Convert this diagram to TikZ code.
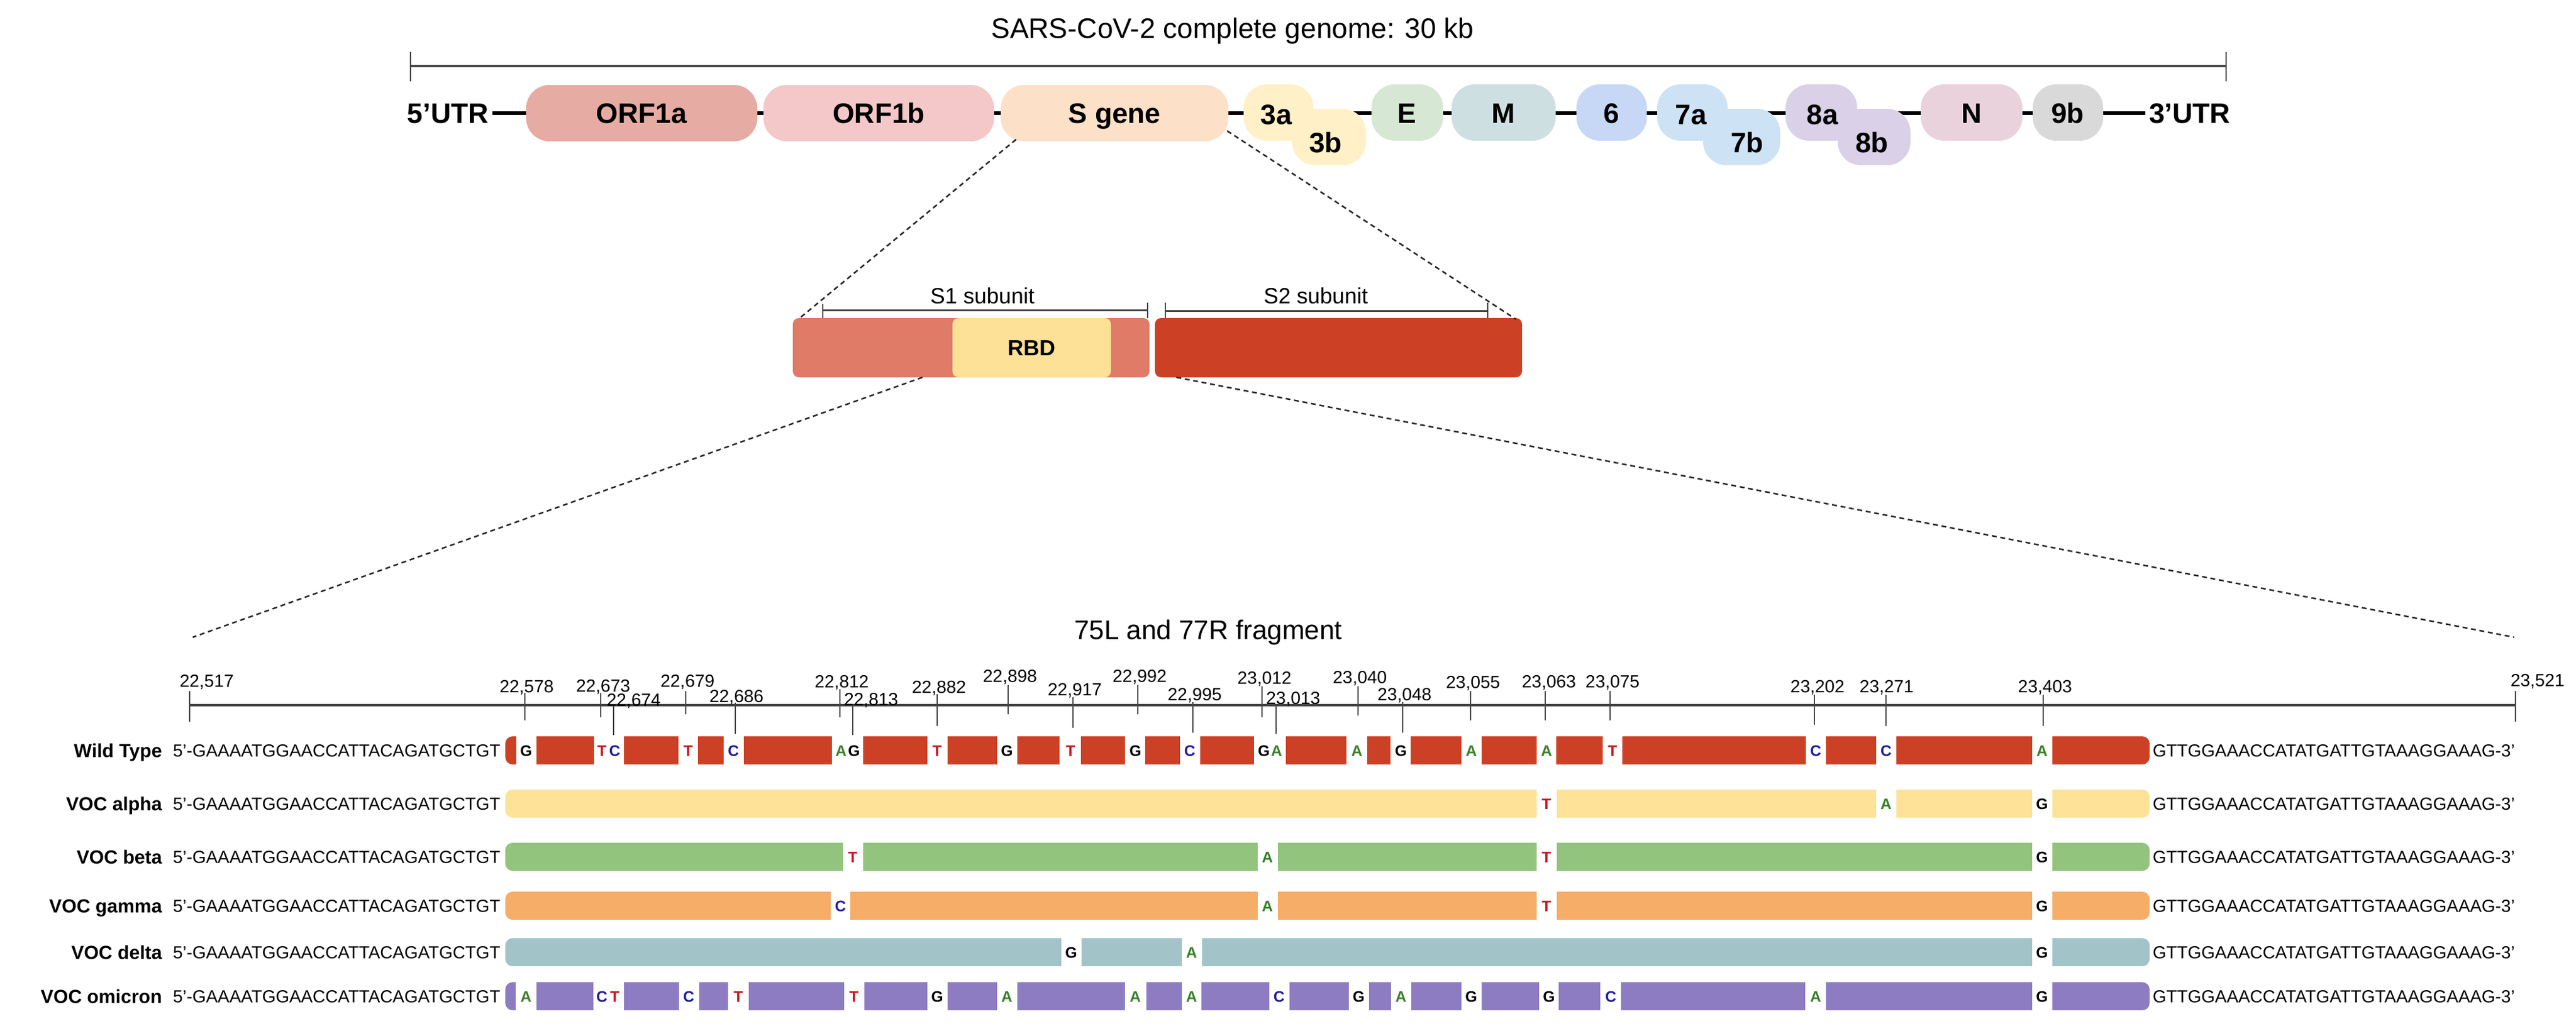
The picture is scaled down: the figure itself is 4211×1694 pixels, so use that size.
\documentclass[tikz,border=0pt]{standalone}
\usepackage{fontspec}
\setmainfont{Liberation Sans}
\usetikzlibrary{calc}
\definecolor{wtred}{RGB}{204,65,37}
\definecolor{alphay}{RGB}{253,226,151}
\definecolor{betag}{RGB}{147,196,125}
\definecolor{gammao}{RGB}{246,173,104}
\definecolor{deltat}{RGB}{162,196,201}
\definecolor{omip}{RGB}{142,124,195}
\definecolor{s1col}{RGB}{223,123,103}
\definecolor{rbdcol}{RGB}{253,225,150}
\definecolor{s2col}{RGB}{204,65,37}
\definecolor{ntA}{RGB}{56,128,40}
\definecolor{ntT}{RGB}{204,20,30}
\definecolor{ntC}{RGB}{30,30,160}
\definecolor{ntG}{RGB}{0,0,0}
\definecolor{orf1acol}{RGB}{230,172,164}
\definecolor{orf1bcol}{RGB}{244,199,200}
\definecolor{sgenecol}{RGB}{252,224,200}
\definecolor{g3col}{RGB}{255,240,200}
\definecolor{gEcol}{RGB}{214,232,212}
\definecolor{gMcol}{RGB}{206,223,226}
\definecolor{g6col}{RGB}{198,216,246}
\definecolor{g7col}{RGB}{205,226,244}
\definecolor{g8col}{RGB}{218,208,232}
\definecolor{gNcol}{RGB}{234,210,221}
\definecolor{g9col}{RGB}{217,217,217}
\definecolor{linegray}{RGB}{70,70,70}
\tikzset{
  gene/.style={rounded corners=38pt, inner sep=0pt, minimum height=92pt, draw=none},
  genetxt/.style={font=\fontsize{46}{50}\selectfont\bfseries, inner sep=0pt, text height=33pt, text depth=0pt},
  titletxt/.style={font=\fontsize{46}{50}\selectfont, inner sep=0pt, text height=33pt, text depth=0pt},
  fragtxt/.style={font=\fontsize{44}{48}\selectfont, inner sep=0pt, text height=31.5pt, text depth=0pt},
  subtxt/.style={font=\fontsize{36}{40}\selectfont, inner sep=0pt, text height=25.8pt, text depth=0pt},
  numtxt/.style={font=\fontsize{28.8}{32}\selectfont, inner sep=0pt, text height=20.6pt, text depth=0pt},
  seqtxt/.style={font=\fontsize{28.6}{32}\selectfont, inner sep=0pt, text height=20.5pt, text depth=0pt},
  rowlbl/.style={font=\fontsize{31}{34}\selectfont\bfseries, inner sep=0pt, text height=22.2pt, text depth=0pt, anchor=east},
  nttxt/.style={font=\fontsize{25}{28}\selectfont\bfseries, inner sep=0pt, text height=18pt, text depth=0pt},
  sbox/.style={rounded corners=10pt, inner sep=0pt, minimum height=97pt, draw=none},
  zoomline/.style={line width=2.5pt, dash pattern=on 8pt off 6pt, black!85},
  tickln/.style={line width=2pt, linegray},
}
\newcommand\varrow[5]{%
  \begin{scope}
    \clip[rounded corners=12pt] (826,#2-23) rectangle (3514,#2+23);
    \foreach \a/\b in {#4} {\fill[#3] (\a,#2-23) rectangle (\b,#2+23);}
  \end{scope}
  \foreach \x/\n in {#5} {\node[nttxt, text=nt\n] (#1-\x) at (\x,#2) {\n};}
}
\begin{document}
\begin{tikzpicture}[x=1pt,y=-1pt]
\useasboundingbox (0,0) rectangle (4211,1694);
\fill[white] (0,0) rectangle (4211,1694);

% ---------- genome ----------
\node[titletxt] (title) at (2015,46) {SARS-CoV-2 complete genome: 30 kb};
\coordinate (gL) at (671,108);
\coordinate (gR) at (3639,108);
\draw[line width=4pt, linegray] (gL) -- (gR);
\draw[line width=2.5pt, linegray] (671,85) -- (671,133);
\draw[line width=2.5pt, linegray] (3639,85) -- (3639,133);

\node[genetxt, anchor=east] (utr5) at (799,185) {5'UTR};
\node[genetxt, anchor=west] (utr3) at (3513,185) {3'UTR};
\draw[line width=6pt, black] ([xshift=6pt]utr5.east) -- ([xshift=-6pt]utr3.west);

\node[gene, fill=orf1acol, minimum width=378pt] (orf1a) at (1049,185) {};
\node[gene, fill=orf1bcol, minimum width=377pt] (orf1b) at (1436.5,185) {};
\node[gene, fill=sgenecol, minimum width=372pt] (sgene) at (1822,185) {};
\node[gene, fill=g3col, minimum width=114pt] (g3a) at (2090,184) {};
\node[gene, fill=g3col, minimum width=121pt] (g3b) at (2172.5,224) {};
\node[gene, fill=gEcol, minimum width=117pt] (gE) at (2300.5,184) {};
\node[gene, fill=gMcol, minimum width=170pt] (gM) at (2458,184) {};
\node[gene, fill=g6col, minimum width=115pt] (g6) at (2634.5,184) {};
\node[gene, fill=g7col, minimum width=115pt] (g7a) at (2766.5,184) {};
\node[gene, fill=g7col, minimum width=126pt] (g7b) at (2847,224) {};
\node[gene, fill=g8col, minimum width=117pt] (g8a) at (2977.5,184) {};
\node[gene, fill=g8col, minimum width=119pt] (g8b) at (3063.5,224) {};
\node[gene, fill=gNcol, minimum width=166pt] (gN) at (3223,184) {};
\node[gene, fill=g9col, minimum width=115pt] (g9b) at (3380.5,184) {};

\node[genetxt] (t-orf1a) at (orf1a) {ORF1a};
\node[genetxt] (t-orf1b) at (orf1b) {ORF1b};
\node[genetxt] (t-sgene) at (sgene) {S gene};
\node[genetxt] (t-3a) at (2086,187) {3a};
\node[genetxt] (t-3b) at (2167,233) {3b};
\node[genetxt] (t-E) at (2300,185) {E};
\node[genetxt] (t-M) at (2458,185) {M};
\node[genetxt] (t-6) at (2634,185) {6};
\node[genetxt] (t-7a) at (2764,187) {7a};
\node[genetxt] (t-7b) at (2856,233) {7b};
\node[genetxt] (t-8a) at (2979,187) {8a};
\node[genetxt] (t-8b) at (3060,233) {8b};
\node[genetxt] (t-N) at (3223,185) {N};
\node[genetxt] (t-9b) at (3380,185) {9b};

% ---------- spike protein ----------
\node[sbox, fill=s1col, minimum width=583pt] (s1) at (1587.5,568.5) {};
\node[sbox, fill=rbdcol, minimum width=259pt, font=\fontsize{36}{40}\selectfont\bfseries, text height=25.8pt, text depth=0pt] (rbd) at (1686.5,568.5) {RBD};
\node[sbox, fill=s2col, minimum width=600pt] (s2) at (2188,568.5) {};

\draw[line width=3pt, linegray] (1345,507) -- (1876,507);
\draw[line width=2pt, linegray] (1345,497) -- (1345,520);
\draw[line width=2pt, linegray] (1876,495) -- (1876,520);
\draw[line width=3pt, linegray] (1905,508) -- (2432,508);
\draw[line width=2pt, linegray] (1905,495) -- (1905,520);
\draw[line width=2pt, linegray] (2432,495) -- (2432,520);
\node[subtxt] (s1lbl) at (1606,484) {S1 subunit};
\node[subtxt] (s2lbl) at (2151,484) {S2 subunit};

% zoom lines
\coordinate (zA) at (1661,228);
\coordinate (zB) at (1305,522);
\coordinate (zC) at (2006,214);
\coordinate (zD) at (2478,522);
\draw[zoomline] (zA) -- (zB);
\draw[zoomline] (zC) -- (zD);
\coordinate (zE) at (1508,617);
\coordinate (zF) at (315,1042);
\coordinate (zG) at (1923,617);
\coordinate (zH) at (4110,1042);
\draw[zoomline] (zE) -- (zF);
\draw[zoomline] (zG) -- (zH);

% ---------- fragment ----------
\node[fragtxt] (frag) at (1975,1030) {75L and 77R fragment};
\coordinate (axL) at (310,1153);
\coordinate (axR) at (4112,1153);
\draw[line width=3.5pt, linegray] (axL) -- (axR);

\foreach \x/\lx/\ly/\ta/\tb/\t in {
 310/338/1113/1130/1180/{22,517},
 858/861/1122/1133/1178/{22,578},
 982/986/1121/1133/1173/{22,673},
 1003/1036/1144/1154/1202/{22,674},
 1121/1124/1113/1130/1168/{22,679},
 1202/1204/1138/1149/1200/{22,686},
 1373/1376/1114/1127/1173/{22,812},
 1394/1424/1143/1153/1202/{22,813},
 1532/1535/1123/1135/1187/{22,882},
 1648/1651/1105/1120/1168/{22,898},
 1754/1757/1127/1140/1190/{22,917},
 1860/1863/1105/1120/1168/{22,992},
 1950/1953/1135/1148/1198/{22,995},
 2063/2067/1108/1122/1173/{23,012},
 2086/2114/1141/1152/1200/{23,013},
 2220/2223/1107/1122/1170/{23,040},
 2293/2296/1135/1148/1198/{23,048},
 2404/2408/1115/1130/1178/{23,055},
 2526/2532/1114/1130/1178/{23,063},
 2632/2636/1114/1130/1178/{23,075},
 2966/2971/1122/1136/1185/{23,202},
 3083/3084/1122/1136/1187/{23,271},
 3340/3343/1122/1136/1187/{23,403},
 4112/4148/1112/1130/1180/{23,521}} {
  \node[numtxt] (lbl-\x) at (\lx,\ly) {\t};
  \draw[tickln] (\x,\ta) -- (\x,\tb);
}

% ---------- rows ----------
\foreach \nm/\y/\lab in {wt/1227/Wild Type, al/1314/VOC alpha, be/1401/VOC beta, ga/1481/VOC gamma, de/1557/VOC delta, om/1629/VOC omicron} {
  \node[rowlbl] (\nm-l) at (265,\y) {\lab};
  \node[seqtxt, anchor=east] (\nm-5) at (818,\y) {5'-GAAAATGGAACCATTACAGATGCTGT};
  \node[seqtxt, anchor=west] (\nm-3) at (3519,\y) {GTTGGAAACCATATGATTGTAAAGGAAAG-3'};
}

\varrow{wt}{1227}{wtred}{826/844, 877/971, 1020/1109, 1141/1183, 1216/1360, 1411/1516, 1549/1630, 1663/1732, 1767/1839, 1872/1929, 1962/2050, 2102/2201, 2235/2273, 2306/2389, 2422/2512, 2544/2620, 2652/2952, 2985/3067, 3100/3322, 3355/3514}{860/G, 984/T, 1005/C, 1125/T, 1199/C, 1375/A, 1396/G, 1532/T, 1646/G, 1750/T, 1856/G, 1945/C, 2066/G, 2087/A, 2218/A, 2290/G, 2405/A, 2528/A, 2636/T, 2968/C, 3083/C, 3338/A}

\varrow{al}{1314}{alphay}{826/2512, 2545/3067, 3100/3322, 3355/3514}{2528/T, 3083/A, 3338/G}

\varrow{be}{1401}{betag}{826/1378, 1411/2056, 2089/2512, 2545/3322, 3355/3514}{1394/T, 2072/A, 2528/T, 3338/G}

\varrow{ga}{1481}{gammao}{826/1358, 1390/2056, 2089/2512, 2545/3322, 3355/3514}{1374/C, 2072/A, 2528/T, 3338/G}

\varrow{de}{1557}{deltat}{826/1735, 1768/1932, 1965/3322, 3355/3514}{1751/G, 1948/A, 3338/G}

\varrow{om}{1629}{omip}{826/843, 877/970, 1020/1110, 1143/1190, 1224/1380, 1413/1516, 1549/1630, 1663/1839, 1874/1932, 1964/2075, 2108/2205, 2238/2274, 2307/2389, 2422/2516, 2548/2616, 2650/2951, 2985/3322, 3355/3514}{860/A, 984/C, 1005/T, 1126/C, 1207/T, 1396/T, 1532/G, 1646/A, 1856/A, 1948/A, 2091/C, 2221/G, 2290/A, 2405/G, 2532/G, 2633/C, 2968/A, 3338/G}

\end{tikzpicture}
\end{document}
